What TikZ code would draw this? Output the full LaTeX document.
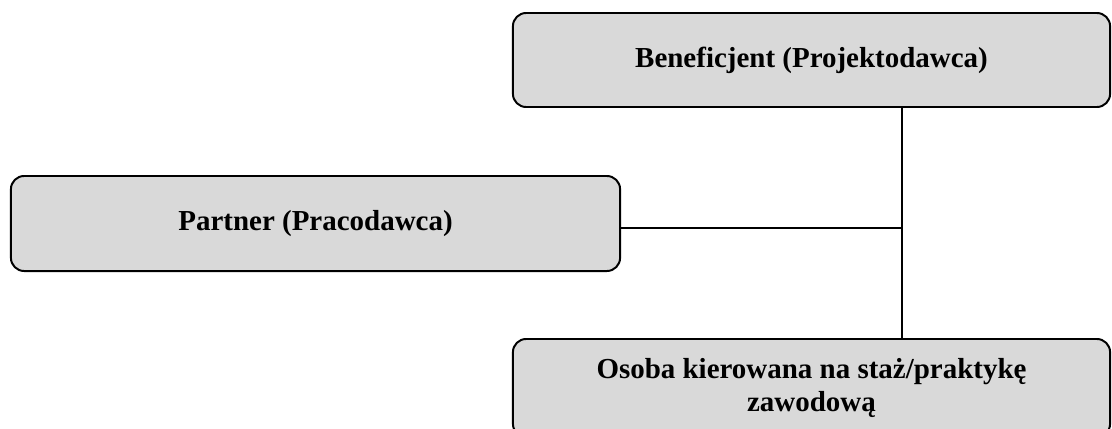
\documentclass[tikz,border=0pt]{standalone}
\usepackage{fontspec}
\setmainfont{Liberation Serif}
\definecolor{boxgray}{HTML}{D9D9D9}
\tikzset{
  box/.style={draw, line width=1.4pt, fill=boxgray, rounded corners=0.33cm,
    align=center, inner sep=0pt, font=\fontsize{20.6}{23.7}\selectfont\bfseries},
  link/.style={line width=1.2pt}
}

\begin{document}
\begin{tikzpicture}[x=0.025cm, y=-0.025cm]
        \useasboundingbox (0,0) rectangle (1112,428);
        \node[box, minimum width=14.925cm, minimum height=2.35cm] (bene) at (811.5,60) {Beneficjent (Projektodawca)};
        \node[box, minimum width=15.225cm, minimum height=2.375cm] (partner) at (315.5,223.5) {Partner (Pracodawca)};
        \node[box, minimum width=14.925cm, minimum height=2.45cm] (osoba) at (811.5,388) {Osoba kierowana na staż/praktykę\\zawodową};
        \coordinate (j) at (902,228);
        \draw[link] (bene.south -| j) -- (osoba.north -| j);
        \draw[link] (partner.east |- j) -- (j);
     \end{tikzpicture}
\end{document}
